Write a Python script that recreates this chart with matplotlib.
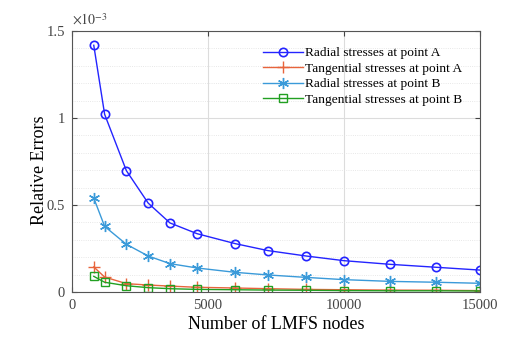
import matplotlib
matplotlib.use("Agg")
import matplotlib.pyplot as plt
from matplotlib.ticker import MultipleLocator, FuncFormatter

# LMFS node counts and relative errors (in units of 1e-3)
nodes = [800, 1200, 2000, 2800, 3600, 4600, 6000, 7200, 8600, 10000, 11700, 13400, 15000]
radial_a = [1.418, 1.021, 0.697, 0.511, 0.397, 0.335, 0.278, 0.238, 0.207, 0.180, 0.159, 0.142, 0.126]
tang_a = [0.144, 0.086, 0.048, 0.040, 0.034, 0.027, 0.023, 0.019, 0.015, 0.013, 0.011, 0.010, 0.008]
radial_b = [0.540, 0.377, 0.274, 0.207, 0.163, 0.138, 0.113, 0.098, 0.084, 0.071, 0.061, 0.056, 0.050]
tang_b = [0.090, 0.056, 0.036, 0.025, 0.019, 0.015, 0.013, 0.011, 0.010, 0.008, 0.007, 0.007, 0.006]

SERIF = ["Liberation Serif", "DejaVu Serif"]
plt.rcParams.update({"font.family": SERIF, "mathtext.fontset": "stix"})

fig = plt.figure(figsize=(5.2, 3.5), dpi=100)
ax = fig.add_axes([72/520, 1-292/350, 408/520, 261/350])

ASTER = (6, 2, 0)  # matlab-style asterisk
ax.plot(nodes, radial_a, "-o", color="#2424ff", lw=1.0, ms=6, mfc="none", mew=1.2,
        label="Radial stresses at point A")
ax.plot(nodes, tang_a, "-", marker="+", color="#e8643c", lw=1.0, ms=8, mew=1.0,
        label="Tangential stresses at point A")
ax.plot(nodes, radial_b, "-", marker=ASTER, color="#3a9ad9", lw=1.0, ms=8, mew=1.0,
        label="Radial stresses at point B")
ax.plot(nodes, tang_b, "-s", color="#22a022", lw=1.0, ms=5.5, mfc="none", mew=1.0,
        label="Tangential stresses at point B")

ax.set_xlim(0, 15000); ax.set_ylim(0, 1.5)
ax.xaxis.set_major_locator(MultipleLocator(5000))
ax.yaxis.set_major_locator(MultipleLocator(0.5))
ax.yaxis.set_minor_locator(MultipleLocator(0.1))
ax.yaxis.set_major_formatter(FuncFormatter(lambda v, p: f"{v:g}"))
ax.grid(which="major", color="#dcdcdc", lw=0.8)
ax.grid(which="minor", axis="y", color="#e0e0e0", lw=0.6, ls=":")
ax.tick_params(which="both", direction="in", top=True, right=True, labelsize=10.5,
               colors="#444444", pad=5)
ax.tick_params(which="minor", length=0)
for s in ax.spines.values():
    s.set_color("#555555"); s.set_linewidth(0.8)

ax.text(0.0, 1.012, r"$\times10^{-3}$", transform=ax.transAxes, fontsize=10, color="#444444",
        va="bottom", ha="left")
ax.set_xlabel("Number of LMFS nodes", fontsize=13, labelpad=3)
ax.set_ylabel("Relative Errors", fontsize=13)
ax.yaxis.set_label_coords(-0.06, 0.465)

leg = ax.legend(loc="upper right", bbox_to_anchor=(0.98, 0.975), frameon=False, fontsize=9.6,
                handlelength=3.0, handletextpad=0.15, labelspacing=0.24, borderaxespad=0.3)

fig.savefig("out.png", dpi=100)
